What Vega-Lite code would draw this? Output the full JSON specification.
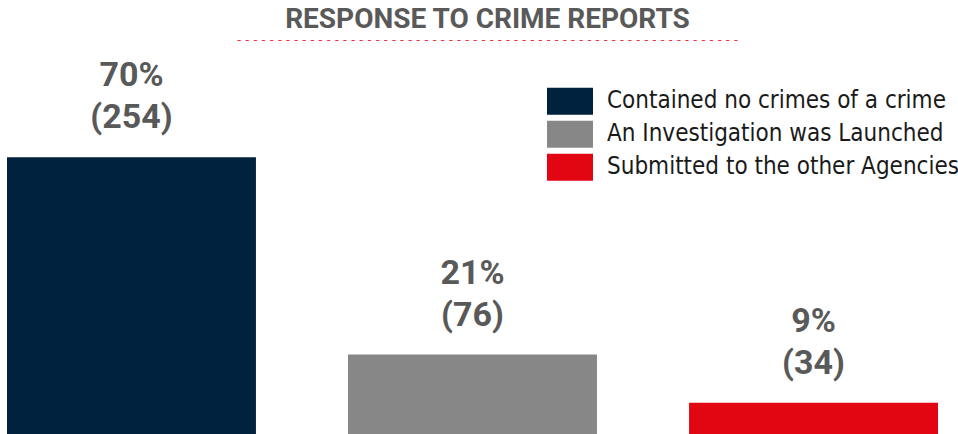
{
  "$schema": "https://vega.github.io/schema/vega-lite/v6.json",
  "width": 931,
  "height": 384,
  "autosize": {"type": "none"},
  "padding": {"left": 7, "top": 50, "right": 20, "bottom": 0},
  "background": "white",
  "title": {
    "text": "RESPONSE TO CRIME REPORTS",
    "subtitle": "\u00a0\u00a0\u00a0- - - - - - - - - - - - - - - - - - - - - - - - - - - - - - - - - - - - - - - - - - - - - - - - - - - - - - - - - - - - - -",
    "anchor": "middle",
    "dx": 15,
    "font": "Roboto",
    "fontSize": 28,
    "fontWeight": "bold",
    "color": "#595959",
    "subtitleFont": "DejaVu Sans",
    "subtitleFontSize": 12,
    "subtitleColor": "#F0323C",
    "subtitlePadding": 1,
    "offset": 4
  },
  "data": {
    "values": [
      {"order": 1, "category": "Contained no crimes of a crime", "pct": 70, "count": 254, "label": "70%\n(254)"},
      {"order": 2, "category": "An Investigation was Launched", "pct": 21, "count": 76, "label": "21%\n(76)"},
      {"order": 3, "category": "Submitted to the other Agencies", "pct": 9, "count": 34, "label": "9%\n(34)"}
    ]
  },
  "encoding": {
    "x": {"field": "category", "type": "nominal", "sort": {"field": "order"}, "axis": null,
      "scale": {"paddingInner": 0.27, "paddingOuter": 0}},
    "y": {"field": "pct", "type": "quantitative", "axis": null,
      "scale": {"domain": [1.27, 96.6], "zero": false, "nice": false}}
  },
  "layer": [
    {
      "mark": {"type": "bar", "clip": true},
      "encoding": {
        "color": {"field": "category", "type": "nominal", "sort": {"field": "order"},
          "scale": {"domain": ["Contained no crimes of a crime", "An Investigation was Launched", "Submitted to the other Agencies"],
                    "range": ["#01223F", "#878787", "#E20613"]},
          "legend": {
            "orient": "none", "legendX": 540, "legendY": 35, "title": null,
            "symbolType": "M-1,-0.587H1V0.587H-1Z", "symbolSize": 2116, "symbolStrokeWidth": 0,
            "symbolOpacity": 1,
            "labelFont": "DejaVu Sans Condensed, Liberation Sans", "labelFontSize": 24, "labelColor": "#1a1a1a",
            "labelOffset": 14, "rowPadding": 0, "clipHeight": 32.5, "padding": 0, "labelLimit": 500
          }
        }
      }
    },
    {
      "mark": {"type": "text", "baseline": "bottom", "dy": -64, "lineHeight": 42,
        "lineBreak": "\n", "font": "Roboto", "fontSize": 34, "fontWeight": "bold", "color": "#595959"},
      "encoding": {"text": {"field": "label"}}
    }
  ],
  "config": {"view": {"stroke": null}}
}
